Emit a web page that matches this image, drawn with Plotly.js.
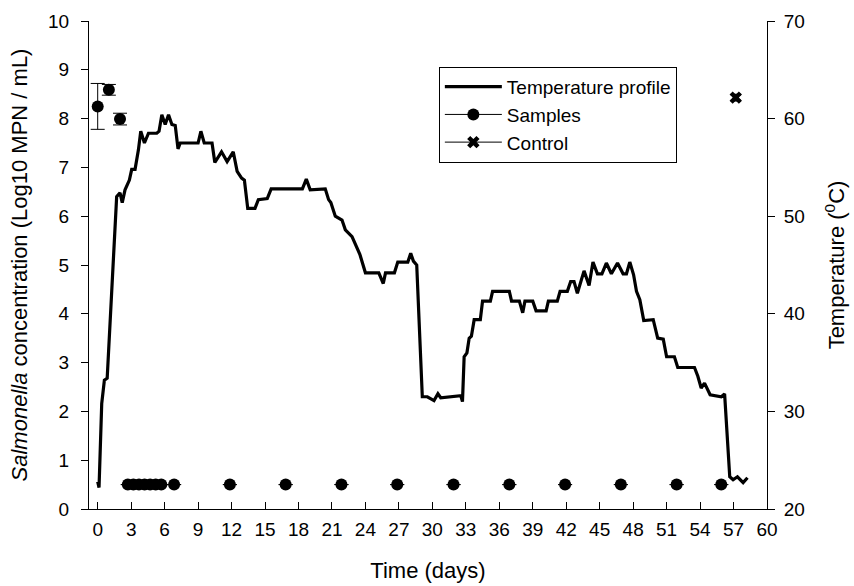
<!DOCTYPE html>
<html>
<head>
<meta charset="utf-8">
<script src="https://cdn.plot.ly/plotly-3.0.1.min.js"></script>
<style>
  html, body { margin: 0; padding: 0; background: #fff; }
  #chart { width: 854px; height: 586px; }
</style>
</head>
<body>
<div id="chart"></div>
<script>
// Temperature profile of the composting run (days, degrees C)
const profileDays = [
  0.0, 0.12, 0.36, 0.6, 0.85, 1.7, 2.0, 2.2, 2.45, 2.84, 3.05, 3.35, 3.65, 3.86, 4.19, 4.55,
  5.3, 5.5, 5.75, 6.05, 6.35, 6.65, 6.95, 7.2, 7.4, 9.0, 9.25, 9.55, 10.25, 10.5, 11.1, 11.6,
  12.15, 12.5, 12.9, 13.15, 13.45, 14.1, 14.4, 15.2, 15.55, 18.35, 18.7, 19.05, 20.4, 20.7,
  20.9, 21.3, 21.9, 22.2, 22.8, 23.1, 23.5, 24.0, 25.2, 25.6, 25.8, 26.6, 26.9, 27.8, 28.06,
  28.3, 28.6, 29.1, 29.55, 30.15, 30.5, 30.75, 32.55, 32.7, 32.85, 33.1, 33.3, 33.5, 33.75,
  34.3, 34.5, 35.2, 35.4, 36.9, 37.1, 37.8, 38.1, 38.3, 39.0, 39.3, 40.2, 40.4, 41.2, 41.45,
  42.1, 42.4, 42.7, 43.0, 43.6, 44.05, 44.4, 44.8, 45.2, 45.6, 46.05, 46.6, 47.1, 47.4, 47.7,
  48.04, 48.3, 48.6, 48.95, 49.8, 50.2, 50.7, 51.0, 51.7, 52.0, 53.5, 53.8, 54.1, 54.4, 54.9,
  55.9, 56.2, 56.66, 56.96, 57.35, 57.86, 58.25
];
const profileTemp = [
  22.8, 22.2, 30.8, 33.2, 33.4, 52.0, 52.4, 51.4, 52.7, 53.7, 54.8, 54.8, 56.8, 58.7, 57.5, 58.5,
  58.5, 58.7, 60.4, 59.4, 60.4, 59.4, 59.3, 56.9, 57.5, 57.5, 58.7, 57.5, 57.5, 55.5, 56.6, 55.6,
  56.6, 54.6, 53.9, 53.7, 50.8, 50.8, 51.7, 51.8, 52.8, 52.8, 53.8, 52.7, 52.8, 51.7,
  51.4, 50.0, 49.6, 48.6, 47.9, 47.1, 46.1, 44.2, 44.2, 43.1, 44.2, 44.2, 45.3, 45.3, 46.2,
  45.4, 45.0, 31.5, 31.5, 31.1, 31.8, 31.4, 31.6, 31.0, 35.6, 36.0, 37.5, 37.7, 39.4,
  39.4, 41.3, 41.3, 42.3, 42.3, 41.3, 41.3, 40.1, 41.3, 41.3, 40.3, 40.3, 41.3, 41.3, 42.3,
  42.3, 43.3, 43.3, 42.1, 44.4, 42.9, 45.3, 44.1, 44.1, 45.2, 44.1, 45.2, 44.1, 44.1, 45.3,
  44.0, 42.3, 41.45, 39.3, 39.4, 37.5, 37.4, 35.6, 35.6, 34.5, 34.5, 33.6, 32.4, 32.9, 31.7,
  31.5, 31.8, 23.3, 23.0, 23.3, 22.7, 23.2
];

// Salmonella samples (log10 MPN / mL) with standard deviations
const sampleDays = [0, 1, 2, 2.7, 3.2, 3.7, 4.2, 4.7, 5.2, 5.7, 6.85, 11.85, 16.85, 21.85,
  26.85, 31.9, 36.9, 41.9, 46.9, 51.9, 55.9];
const sampleLog = [8.25, 8.59, 7.99, 0.5, 0.5, 0.5, 0.5, 0.5, 0.5, 0.5, 0.5, 0.5, 0.5, 0.5,
  0.5, 0.5, 0.5, 0.5, 0.5, 0.5, 0.5];
const sampleSd = [0.47, 0.11, 0.12, null, null, null, null, null, null, null, null, null, null,
  null, null, null, null, null, null, null, null];

// Un-composted control
const controlDays = [57.2];
const controlLog = [8.43];
const controlSd = [0.06];

const xTicks = [0, 3, 6, 9, 12, 15, 18, 21, 24, 27, 30, 33, 36, 39, 42, 45, 48, 51, 54, 57, 60];

// Samples are drawn as separate points: gaps keep the legend line without joining them
function withGaps(arr) {
  const out = [];
  arr.forEach((v, i) => { if (i) out.push(null); out.push(v); });
  return out;
}

const font = 'Arial, "Liberation Sans", sans-serif';

const traces = [
  {
    name: 'Temperature profile',
    x: profileDays, y: profileTemp,
    yaxis: 'y2', type: 'scatter', mode: 'lines',
    line: { color: 'black', width: 3.2 }
  },
  {
    name: 'Samples',
    x: withGaps(sampleDays), y: withGaps(sampleLog),
    type: 'scatter', mode: 'lines+markers', connectgaps: false,
    line: { color: 'black', width: 1 },
    marker: { symbol: 'circle', size: 12, color: 'black' },
    error_y: { type: 'data', array: withGaps(sampleSd), visible: true,
               color: 'black', thickness: 1, width: 7 }
  },
  {
    name: 'Control',
    x: controlDays, y: controlLog,
    type: 'scatter', mode: 'lines+markers',
    line: { color: 'black', width: 1 },
    marker: { symbol: 'x', size: 11, color: 'black', line: { width: 0 } },
    error_y: { type: 'data', array: controlSd, visible: true,
               color: 'black', thickness: 2, width: 5 }
  }
];

const axisBase = {
  showgrid: false, zeroline: false, showline: true,
  linecolor: 'black', linewidth: 1,
  tickcolor: 'black', tickwidth: 1, ticklen: 7,
  tickfont: { family: font, size: 19, color: 'black' }
};

const layout = {
  width: 854, height: 586,
  margin: { l: 89, r: 87, t: 21, b: 77 },
  paper_bgcolor: 'white', plot_bgcolor: 'white',
  font: { family: font, size: 19, color: 'black' },
  showlegend: true,
  legend: {
    x: 0.516, y: 0.906, xanchor: 'left', yanchor: 'top',
    bordercolor: 'black', borderwidth: 1, bgcolor: 'white',
    font: { family: font, size: 19, color: 'black' },
    itemwidth: 57,
    entrywidth: 240, entrywidthmode: 'pixels',
    tracegroupgap: 0
  },
  xaxis: Object.assign({}, axisBase, {
    range: [-0.78, 60], tickmode: 'array', tickvals: xTicks,
    ticks: 'inside', ticklabelstandoff: 3,
    title: { text: 'Time (days)', font: { family: font, size: 22 }, standoff: 23 }
  }),
  yaxis: Object.assign({}, axisBase, {
    range: [0, 10], dtick: 1, ticks: 'outside', ticklabelstandoff: 8,
    title: { text: '<i>Salmonella</i> concentration (Log10 MPN / mL)',
             font: { family: font, size: 22 }, standoff: 14 }
  }),
  yaxis2: Object.assign({}, axisBase, {
    range: [20, 70], dtick: 10, ticks: 'outside', ticklabelstandoff: 5,
    overlaying: 'y', side: 'right',
    title: { text: 'Temperature (<sup>0</sup>C)', font: { family: font, size: 22 }, standoff: 24 }
  })
};

Plotly.newPlot('chart', traces, layout, { displayModeBar: false, staticPlot: true });
</script>
</body>
</html>
